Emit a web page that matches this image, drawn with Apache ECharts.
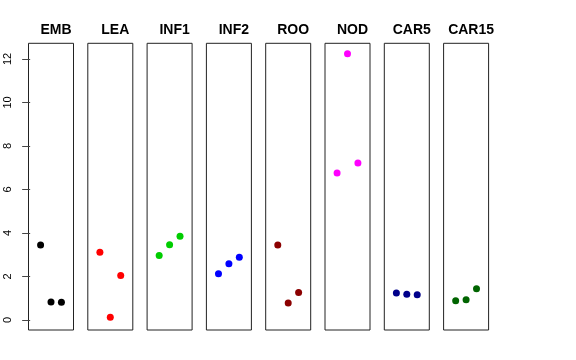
<!DOCTYPE html>
<html><head><meta charset="utf-8">
<script src="https://cdn.jsdelivr.net/npm/echarts@6/dist/echarts.min.js"></script>
<style>html,body{margin:0;padding:0;background:#fff}#c{width:576px;height:360px}</style>
</head><body><div id="c"></div>
<script>
const panels = ['EMB','LEA','INF1','INF2','ROO','NOD','CAR5','CAR15'];
const xPos = [1, 2, 3];
const EMB = [3.45, 0.83, 0.81];
const LEA = [3.11, 0.13, 2.05];
const INF1 = [2.96, 3.46, 3.85];
const INF2 = [2.13, 2.59, 2.88];
const ROO = [3.45, 0.78, 1.26];
const NOD = [6.76, 12.24, 7.22];
const CAR5 = [1.24, 1.18, 1.16];
const CAR15 = [0.89, 0.93, 1.44];
const yTicks = [0, 2, 4, 6, 8, 10, 12];
const colors = ['#000000','#FF0000','#00CD00','#0000FF','#8B0000','#FF00FF','#00008B','#006400'];
const seriesValues = [EMB, LEA, INF1, INF2, ROO, NOD, CAR5, CAR15];

(function () {
const left0 = 28.5, step = 59.3, w = 45, gTop = 43.3, h = 286.7;
const grids = [], xAxes = [], yAxes = [], series = [], titles = [];
panels.forEach((p, i) => {
  const l = left0 + step * i;
  grids.push({left: l, top: gTop, width: w, height: h, show: true, borderColor: '#222', borderWidth: 1, backgroundColor: 'transparent'});
  xAxes.push({type: 'value', gridIndex: i, min: -0.16, max: 4.16, show: false});
  yAxes.push({
    type: 'value', gridIndex: i, min: -0.46, max: 12.72, show: i === 0,
    splitLine: {show: false}, axisLine: {show: false},
    axisTick: {show: true, length: 8, customValues: yTicks, lineStyle: {color: '#444'}},
    axisLabel: {show: true, customValues: yTicks, rotate: 90, margin: 15, fontSize: 11, color: '#000', fontFamily: 'Liberation Sans'}
  });
  series.push({
    type: 'scatter', xAxisIndex: i, yAxisIndex: i, symbolSize: 7,
    itemStyle: {color: colors[i], opacity: 1},
    data: xPos.map((x, k) => [x, seriesValues[i][k]])
  });
  titles.push({text: p, left: l + w / 2, top: 18, textAlign: 'center',
    textStyle: {fontSize: 14, fontWeight: 'bold', color: '#000', fontFamily: 'Liberation Sans'}});
});
const chart = echarts.init(document.getElementById('c'), null, {renderer: 'canvas'});
chart.setOption({animation: false, backgroundColor: '#fff', title: titles, grid: grids, xAxis: xAxes, yAxis: yAxes, series: series});
})();
</script></body></html>
